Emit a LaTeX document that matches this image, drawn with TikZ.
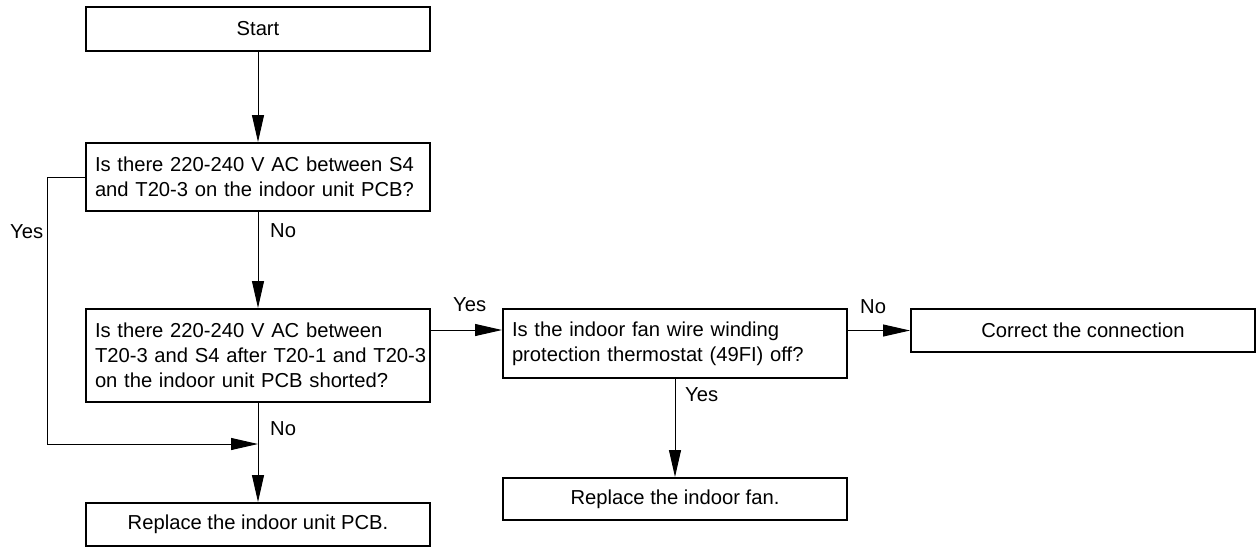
\documentclass[tikz,border=0pt]{standalone}
\usepackage{fontspec}
\setmainfont{Liberation Sans}
\usetikzlibrary{arrows.meta}
\begin{document}
\begin{tikzpicture}[x=1pt,y=-1pt,
  box/.style={draw,line width=2pt,minimum width=344pt,inner ysep=0pt,inner xsep=9pt,
    font=\fontsize{20.2}{25}\selectfont},
  qbox/.style={box,text width=326pt,align=left},
  arr/.style={line width=1pt,-{Triangle[length=27pt,width=12pt]}},
  lnk/.style={line width=1pt},
  lbl/.style={font=\fontsize{20.2}{25}\selectfont,inner sep=0pt,anchor=west}]
\useasboundingbox (0,0) rectangle (1260,547);

\node[box,minimum height=44pt] (start) at (258,29) {Start};
\node[qbox,minimum height=68pt] (q1) at (258,177)
  {\mbox{Is there 220-240 V AC between S4}\\\mbox{and T20-3 on the indoor unit PCB?}};
\node[qbox,minimum height=93pt] (q2) at (258,355.5)
  {\mbox{Is there 220-240 V AC between}\\\mbox{T20-3 and S4 after T20-1 and T20-3}\\\mbox{on the indoor unit PCB shorted?}};
\node[box,minimum height=43pt] (pcb) at (258,524.5) {Replace the indoor unit PCB.};
\node[qbox,minimum height=69pt] (q3) at (675,343.5)
  {\mbox{Is the indoor fan wire winding}\\\mbox{protection thermostat (49FI) off?}};
\node[box,minimum height=42pt] (fan) at (675,499) {Replace the indoor fan.};
\node[box,minimum height=43pt] (conn) at (1083,330.5) {Correct the connection};

\coordinate (merge) at (258,444);

\draw[arr] (start) -- (q1);
\draw[arr] (q1) -- (q2);
\draw[lnk] (q2.south) -- (merge);
\draw[arr] (merge) -- (pcb.north);
\draw[arr] (q1.west) -- ++(-38,0) |- (merge);
\draw[arr] ([yshift=-22pt]q2.north east) -- ([yshift=-22pt]q3.north west);
\draw[arr] (q3.east |- conn.west) -- (conn.west);
\draw[arr] (q3.south -| fan.north) -- (fan.north);

\node[lbl] (y1) at (10,232) {Yes};
\node[lbl] (n1) at (270,231) {No};
\node[lbl] (n2) at (270,429) {No};
\node[lbl] (y2) at (453,305) {Yes};
\node[lbl] (n3) at (860,307) {No};
\node[lbl] (y3) at (685,395) {Yes};
\end{tikzpicture}
\end{document}
